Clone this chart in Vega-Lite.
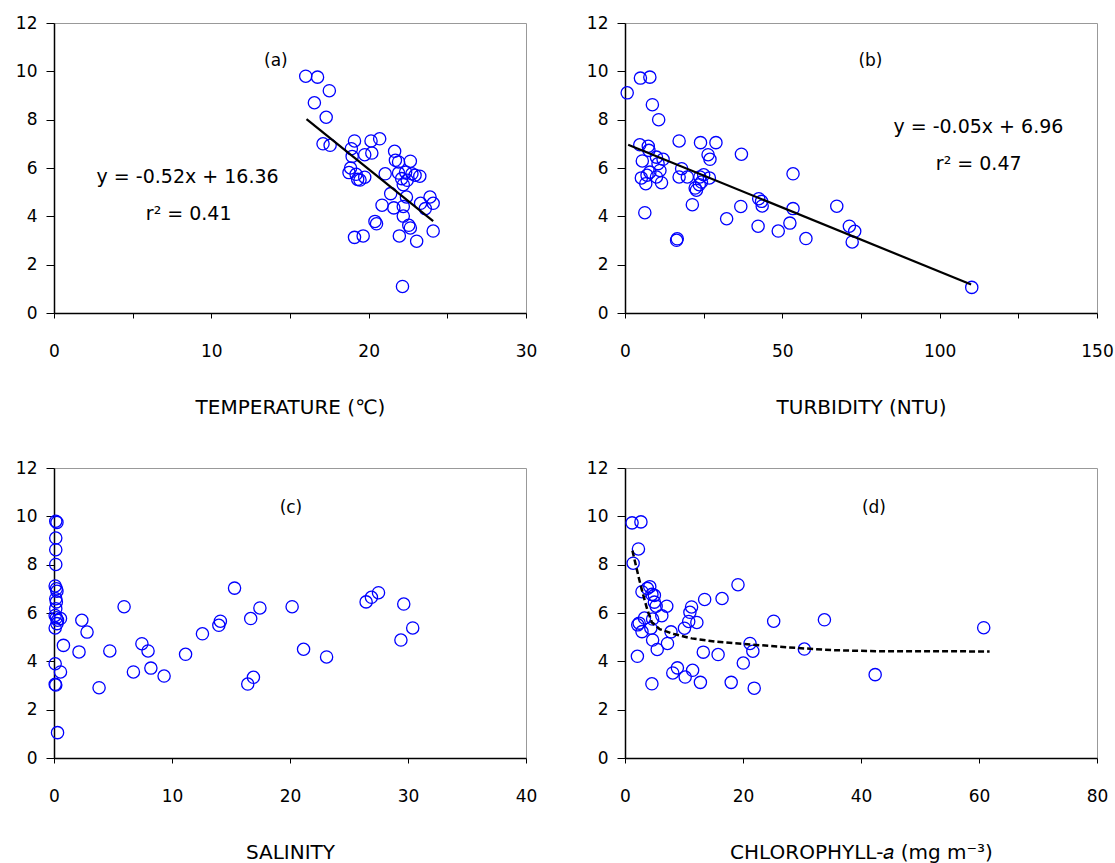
{
  "$schema": "https://vega.github.io/schema/vega-lite/v6.json",
  "padding": {"left": 14, "top": 13, "right": 3, "bottom": 5},
  "background": "white",
  "columns": 2,
  "bounds": "flush",
  "spacing": {"column": 99, "row": 155},
  "datasets": {
    "a": [
      {"t":16.0,"y":9.8},{"t":16.75,"y":9.76},{"t":17.5,"y":9.2},{"t":16.55,"y":8.7},{"t":17.3,"y":8.1},
      {"t":17.1,"y":7.0},{"t":17.55,"y":6.94},{"t":19.1,"y":7.12},{"t":20.15,"y":7.12},{"t":20.7,"y":7.21},
      {"t":18.9,"y":6.8},{"t":18.95,"y":6.48},{"t":19.75,"y":6.55},{"t":20.2,"y":6.62},{"t":18.85,"y":6.0},
      {"t":18.75,"y":5.81},{"t":19.2,"y":5.74},{"t":19.45,"y":5.5},{"t":19.75,"y":5.62},{"t":19.3,"y":5.53},
      {"t":21.65,"y":6.69},{"t":21.7,"y":6.32},{"t":21.9,"y":6.25},{"t":22.65,"y":6.28},{"t":21.05,"y":5.76},
      {"t":21.9,"y":5.79},{"t":22.35,"y":5.83},{"t":22.75,"y":5.76},{"t":22.95,"y":5.7},{"t":23.25,"y":5.66},
      {"t":22.1,"y":5.56},{"t":22.45,"y":5.49},{"t":22.2,"y":5.31},{"t":21.4,"y":4.94},{"t":22.4,"y":4.8},
      {"t":20.85,"y":4.46},{"t":21.6,"y":4.35},{"t":22.2,"y":4.41},{"t":23.3,"y":4.54},{"t":23.9,"y":4.8},
      {"t":24.1,"y":4.54},{"t":23.6,"y":4.32},{"t":22.2,"y":4.01},{"t":20.4,"y":3.79},{"t":20.5,"y":3.69},
      {"t":22.55,"y":3.63},{"t":22.65,"y":3.52},{"t":24.1,"y":3.39},{"t":19.1,"y":3.13},{"t":19.65,"y":3.19},
      {"t":21.95,"y":3.19},{"t":23.05,"y":2.97},{"t":22.15,"y":1.1}
    ],
    "lineA": [{"t":16.05,"y":8.02},{"t":24.1,"y":3.8}],
    "b": [
      {"n":0.7,"y":9.11},{"n":4.9,"y":9.72},{"n":7.9,"y":9.76},{"n":8.7,"y":8.62},{"n":10.7,"y":8.0},
      {"n":4.7,"y":6.96},{"n":7.4,"y":6.9},{"n":7.6,"y":6.73},{"n":5.5,"y":6.29},{"n":10.0,"y":6.45},
      {"n":12.1,"y":6.36},{"n":10.5,"y":6.18},{"n":11.1,"y":5.9},{"n":7.9,"y":5.83},{"n":7.0,"y":5.7},
      {"n":5.2,"y":5.59},{"n":6.6,"y":5.35},{"n":10.0,"y":5.63},{"n":11.6,"y":5.39},{"n":6.3,"y":4.15},
      {"n":17.2,"y":7.12},{"n":18.0,"y":5.97},{"n":17.2,"y":5.63},{"n":19.8,"y":5.63},{"n":22.3,"y":5.17},
      {"n":22.7,"y":5.08},{"n":21.4,"y":4.48},{"n":16.4,"y":3.01},{"n":16.6,"y":3.07},{"n":24.0,"y":7.05},
      {"n":28.9,"y":7.05},{"n":26.4,"y":6.55},{"n":27.0,"y":6.36},{"n":23.8,"y":5.63},{"n":25.0,"y":5.72},
      {"n":26.8,"y":5.59},{"n":24.3,"y":5.42},{"n":23.6,"y":5.31},{"n":32.3,"y":3.9},{"n":37.0,"y":6.57},
      {"n":36.8,"y":4.41},{"n":42.5,"y":4.73},{"n":43.4,"y":4.62},{"n":43.6,"y":4.43},{"n":42.3,"y":3.59},
      {"n":48.7,"y":3.39},{"n":52.4,"y":3.72},{"n":53.4,"y":5.76},{"n":53.4,"y":4.32},{"n":57.5,"y":3.08},
      {"n":67.3,"y":4.42},{"n":71.3,"y":3.59},{"n":73.0,"y":3.38},{"n":72.2,"y":2.94},{"n":110.2,"y":1.06}
    ],
    "lineB": [{"n":1.0,"y":6.96},{"n":110.0,"y":1.18}],
    "c": [
      {"s":0.15,"y":9.8},{"s":0.25,"y":9.75},{"s":0.15,"y":9.1},{"s":0.15,"y":8.62},{"s":0.15,"y":8.01},
      {"s":0.1,"y":7.12},{"s":0.2,"y":7.0},{"s":0.25,"y":6.9},{"s":0.15,"y":6.59},{"s":0.2,"y":6.46},
      {"s":0.15,"y":6.18},{"s":0.1,"y":5.9},{"s":0.2,"y":5.8},{"s":0.3,"y":5.7},{"s":0.25,"y":5.56},
      {"s":0.1,"y":5.38},{"s":0.55,"y":5.77},{"s":0.1,"y":3.9},{"s":0.1,"y":3.05},{"s":0.15,"y":3.02},
      {"s":0.3,"y":1.05},{"s":0.55,"y":3.56},{"s":0.8,"y":4.66},{"s":2.36,"y":5.7},{"s":2.8,"y":5.21},
      {"s":2.12,"y":4.39},{"s":3.82,"y":2.91},{"s":4.73,"y":4.43},{"s":5.94,"y":6.26},{"s":6.73,"y":3.56},
      {"s":7.45,"y":4.73},{"s":7.97,"y":4.43},{"s":8.21,"y":3.72},{"s":9.33,"y":3.39},{"s":11.15,"y":4.29},
      {"s":12.58,"y":5.14},{"s":13.97,"y":5.49},{"s":14.1,"y":5.66},{"s":15.3,"y":7.03},{"s":16.67,"y":5.77},
      {"s":17.45,"y":6.21},{"s":16.42,"y":3.06},{"s":16.9,"y":3.34},{"s":20.18,"y":6.26},{"s":21.15,"y":4.5},
      {"s":23.1,"y":4.18},{"s":26.45,"y":6.46},{"s":26.9,"y":6.65},{"s":27.5,"y":6.84},{"s":29.64,"y":6.37},
      {"s":29.4,"y":4.88},{"s":30.4,"y":5.38}
    ],
    "d": [
      {"ch":1.2,"y":9.73},{"ch":2.7,"y":9.77},{"ch":2.28,"y":8.65},{"ch":1.38,"y":8.06},{"ch":2.1,"y":4.21},
      {"ch":2.16,"y":5.51},{"ch":2.4,"y":5.58},{"ch":2.88,"y":5.23},{"ch":3.3,"y":5.79},{"ch":2.88,"y":6.88},
      {"ch":3.78,"y":7.02},{"ch":4.2,"y":7.09},{"ch":4.56,"y":6.77},{"ch":4.98,"y":6.73},{"ch":4.98,"y":6.45},
      {"ch":5.28,"y":6.28},{"ch":4.38,"y":5.37},{"ch":4.68,"y":4.88},{"ch":5.46,"y":4.49},{"ch":4.68,"y":5.75},
      {"ch":6.24,"y":5.89},{"ch":7.08,"y":6.28},{"ch":7.2,"y":4.74},{"ch":7.8,"y":5.22},{"ch":4.56,"y":3.07},
      {"ch":8.1,"y":3.52},{"ch":8.88,"y":3.73},{"ch":10.08,"y":5.37},{"ch":10.2,"y":3.35},{"ch":10.8,"y":5.65},
      {"ch":11.0,"y":6.03},{"ch":11.28,"y":6.25},{"ch":11.46,"y":3.63},{"ch":12.18,"y":5.61},{"ch":12.78,"y":3.13},
      {"ch":13.27,"y":4.38},{"ch":13.5,"y":6.56},{"ch":15.78,"y":4.28},{"ch":16.45,"y":6.6},{"ch":18.0,"y":3.13},
      {"ch":19.15,"y":7.17},{"ch":20.05,"y":3.93},{"ch":21.19,"y":4.74},{"ch":21.67,"y":4.42},{"ch":21.9,"y":2.89},
      {"ch":25.2,"y":5.66},{"ch":30.4,"y":4.51},{"ch":33.8,"y":5.72},{"ch":42.4,"y":3.45},{"ch":60.8,"y":5.39}
    ],
    "curveD": [
      {"ch":1.26,"y":8.58},{"ch":2.0,"y":7.81},{"ch":2.4,"y":7.4},{"ch":3.06,"y":6.77},{"ch":3.78,"y":6.14},
      {"ch":4.56,"y":5.61},{"ch":5.88,"y":5.33},{"ch":8.28,"y":5.13},{"ch":11.3,"y":4.95},{"ch":15.5,"y":4.81},
      {"ch":21.2,"y":4.7},{"ch":27.5,"y":4.58},{"ch":35.3,"y":4.46},{"ch":42.5,"y":4.42},{"ch":61.8,"y":4.41}
    ]
  },
  "concat": [
    {
      "width": 472, "height": 290,
      "layer": [
        {"data": {"name": "a"}, "mark": {"type": "point", "shape": "circle", "filled": false, "color": "#0000FF", "size": 150, "strokeWidth": 1.3, "opacity": 1},
         "encoding": {
           "x": {"field": "t", "type": "quantitative", "scale": {"domain": [0, 30], "nice": false}, "axis": {"title": "TEMPERATURE (℃)", "values": [0,5,10,15,20,25,30], "labelExpr": "datum.value % 10 === 0 ? datum.label : ''"}},
           "y": {"field": "y", "type": "quantitative", "scale": {"domain": [0, 12], "nice": false}, "axis": {"title": null, "values": [0,2,4,6,8,10,12]}}}},
        {"data": {"name": "lineA"}, "mark": {"type": "line", "color": "black", "strokeWidth": 2.2},
         "encoding": {"x": {"field": "t", "type": "quantitative"}, "y": {"field": "y", "type": "quantitative"}}},
        {"data": {"values": [{}]}, "mark": {"type": "text", "text": "(a)", "fontSize": 17, "align": "center", "baseline": "middle"},
         "encoding": {"x": {"datum": 14.1, "type": "quantitative"}, "y": {"datum": 10.42, "type": "quantitative"}}},
        {"data": {"values": [{}]}, "mark": {"type": "text", "text": "y = -0.52x + 16.36", "fontSize": 19, "align": "center", "baseline": "middle"},
         "encoding": {"x": {"datum": 8.49, "type": "quantitative"}, "y": {"datum": 5.63, "type": "quantitative"}}},
        {"data": {"values": [{}]}, "mark": {"type": "text", "text": "r² = 0.41", "fontSize": 19, "align": "center", "baseline": "middle"},
         "encoding": {"x": {"datum": 8.56, "type": "quantitative"}, "y": {"datum": 4.11, "type": "quantitative"}}}
      ]
    },
    {
      "width": 472, "height": 290,
      "layer": [
        {"data": {"name": "b"}, "mark": {"type": "point", "shape": "circle", "filled": false, "color": "#0000FF", "size": 150, "strokeWidth": 1.3, "opacity": 1},
         "encoding": {
           "x": {"field": "n", "type": "quantitative", "scale": {"domain": [0, 150], "nice": false}, "axis": {"title": "TURBIDITY (NTU)", "values": [0,25,50,75,100,125,150], "labelExpr": "datum.value % 50 === 0 ? datum.label : ''"}},
           "y": {"field": "y", "type": "quantitative", "scale": {"domain": [0, 12], "nice": false}, "axis": {"title": null, "values": [0,2,4,6,8,10,12]}}}},
        {"data": {"name": "lineB"}, "mark": {"type": "line", "color": "black", "strokeWidth": 2.2},
         "encoding": {"x": {"field": "n", "type": "quantitative"}, "y": {"field": "y", "type": "quantitative"}}},
        {"data": {"values": [{}]}, "mark": {"type": "text", "text": "(b)", "fontSize": 17, "align": "center", "baseline": "middle"},
         "encoding": {"x": {"datum": 78.0, "type": "quantitative"}, "y": {"datum": 10.42, "type": "quantitative"}}},
        {"data": {"values": [{}]}, "mark": {"type": "text", "text": "y = -0.05x + 6.96", "fontSize": 19, "align": "center", "baseline": "middle"},
         "encoding": {"x": {"datum": 112.3, "type": "quantitative"}, "y": {"datum": 7.7, "type": "quantitative"}}},
        {"data": {"values": [{}]}, "mark": {"type": "text", "text": "r² = 0.47", "fontSize": 19, "align": "center", "baseline": "middle"},
         "encoding": {"x": {"datum": 112.4, "type": "quantitative"}, "y": {"datum": 6.18, "type": "quantitative"}}}
      ]
    },
    {
      "width": 472, "height": 290,
      "layer": [
        {"data": {"name": "c"}, "mark": {"type": "point", "shape": "circle", "filled": false, "color": "#0000FF", "size": 150, "strokeWidth": 1.3, "opacity": 1},
         "encoding": {
           "x": {"field": "s", "type": "quantitative", "scale": {"domain": [0, 40], "nice": false}, "axis": {"title": "SALINITY", "values": [0,10,20,30,40]}},
           "y": {"field": "y", "type": "quantitative", "scale": {"domain": [0, 12], "nice": false}, "axis": {"title": null, "values": [0,2,4,6,8,10,12]}}}},
        {"data": {"values": [{}]}, "mark": {"type": "text", "text": "(c)", "fontSize": 17, "align": "center", "baseline": "middle"},
         "encoding": {"x": {"datum": 20.08, "type": "quantitative"}, "y": {"datum": 10.34, "type": "quantitative"}}}
      ]
    },
    {
      "width": 472, "height": 290,
      "layer": [
        {"data": {"name": "d"}, "mark": {"type": "point", "shape": "circle", "filled": false, "color": "#0000FF", "size": 150, "strokeWidth": 1.3, "opacity": 1},
         "encoding": {
           "x": {"field": "ch", "type": "quantitative", "scale": {"domain": [0, 80], "nice": false}, "axis": {"title": "CHLOROPHYLL-𝑎 (mg m⁻³)", "values": [0,20,40,60,80]}},
           "y": {"field": "y", "type": "quantitative", "scale": {"domain": [0, 12], "nice": false}, "axis": {"title": null, "values": [0,2,4,6,8,10,12]}}}},
        {"data": {"name": "curveD"}, "mark": {"type": "line", "color": "black", "strokeWidth": 2.5, "strokeDash": [6, 3]},
         "encoding": {"x": {"field": "ch", "type": "quantitative"}, "y": {"field": "y", "type": "quantitative"}}},
        {"data": {"values": [{}]}, "mark": {"type": "text", "text": "(d)", "fontSize": 17, "align": "center", "baseline": "middle"},
         "encoding": {"x": {"datum": 42.2, "type": "quantitative"}, "y": {"datum": 10.34, "type": "quantitative"}}}
      ]
    }
  ],
  "config": {
    "font": "DejaVu Sans",
    "view": {"stroke": "#999999", "strokeWidth": 1},
    "text": {"font": "DejaVu Sans", "color": "black"},
    "axis": {
      "grid": false,
      "domainColor": "black", "domainWidth": 1.5,
      "tickColor": "black", "tickWidth": 1,
      "labelFont": "DejaVu Sans", "labelFontSize": 17, "labelColor": "black",
      "labelFlush": false, "labelOverlap": false,
      "titleFont": "DejaVu Sans", "titleFontSize": 20, "titleFontWeight": "normal", "titleColor": "black"
    },
    "axisX": {"tickSize": 5, "labelPadding": 25, "titlePadding": 38},
    "axisY": {"tickSize": 8, "labelPadding": 9}
  }
}
